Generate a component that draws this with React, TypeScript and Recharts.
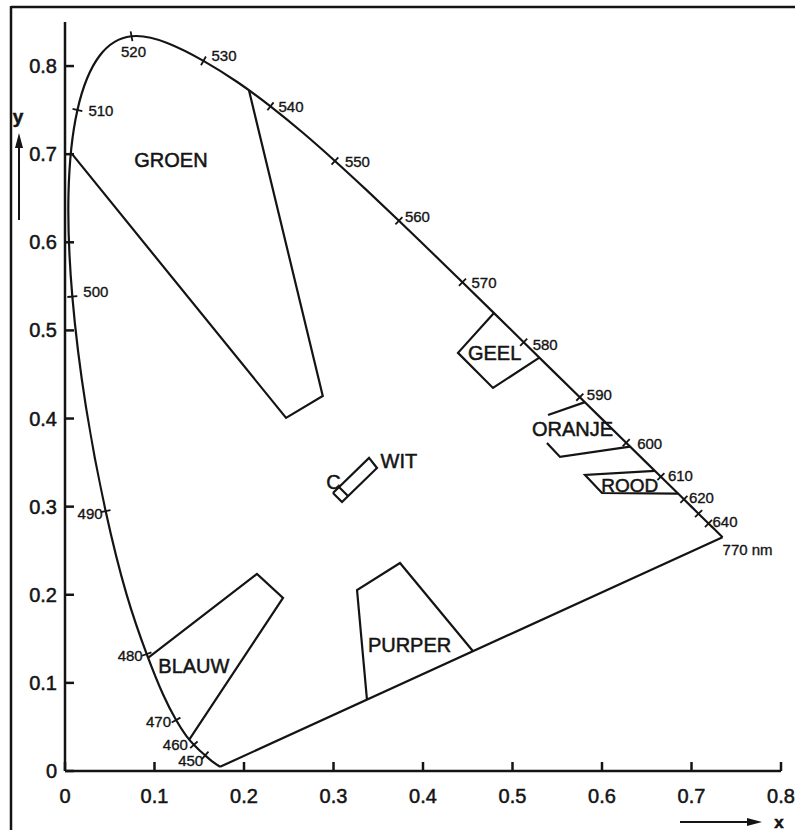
import React from "react";
import { Scatter, ScatterChart, XAxis, YAxis } from "recharts";

const FONT = '"Liberation Sans", Arial, Helvetica, sans-serif';
const INK = "#141414";

// CIE 1931 spectral locus, wavelength in nm
const locus = [
  { nm: 400, x: 0.1733, y: 0.0048 },
  { nm: 440, x: 0.1644, y: 0.0109 },
  { nm: 450, x: 0.1566, y: 0.0177 },
  { nm: 455, x: 0.151, y: 0.0227 },
  { nm: 460, x: 0.144, y: 0.0297 },
  { nm: 465, x: 0.1355, y: 0.0399 },
  { nm: 470, x: 0.1241, y: 0.0578 },
  { nm: 475, x: 0.1096, y: 0.0868 },
  { nm: 480, x: 0.0913, y: 0.1327 },
  { nm: 485, x: 0.0687, y: 0.2007 },
  { nm: 490, x: 0.0454, y: 0.295 },
  { nm: 495, x: 0.0235, y: 0.4127 },
  { nm: 500, x: 0.0082, y: 0.5384 },
  { nm: 505, x: 0.0039, y: 0.6548 },
  { nm: 510, x: 0.0139, y: 0.7502 },
  { nm: 515, x: 0.0389, y: 0.812 },
  { nm: 520, x: 0.0743, y: 0.8338 },
  { nm: 525, x: 0.1142, y: 0.8262 },
  { nm: 530, x: 0.1547, y: 0.8059 },
  { nm: 535, x: 0.1929, y: 0.7816 },
  { nm: 540, x: 0.2296, y: 0.7543 },
  { nm: 545, x: 0.2658, y: 0.7243 },
  { nm: 550, x: 0.3016, y: 0.6923 },
  { nm: 555, x: 0.3373, y: 0.6589 },
  { nm: 560, x: 0.3731, y: 0.6245 },
  { nm: 565, x: 0.4087, y: 0.5896 },
  { nm: 570, x: 0.4441, y: 0.5547 },
  { nm: 575, x: 0.4788, y: 0.5202 },
  { nm: 580, x: 0.5125, y: 0.4866 },
  { nm: 585, x: 0.5448, y: 0.4544 },
  { nm: 590, x: 0.5752, y: 0.4242 },
  { nm: 595, x: 0.6029, y: 0.3965 },
  { nm: 600, x: 0.627, y: 0.3725 },
  { nm: 605, x: 0.6482, y: 0.3514 },
  { nm: 610, x: 0.6658, y: 0.334 },
  { nm: 615, x: 0.6801, y: 0.3197 },
  { nm: 620, x: 0.6915, y: 0.3083 },
  { nm: 630, x: 0.7079, y: 0.292 },
  { nm: 640, x: 0.719, y: 0.2809 },
  { nm: 650, x: 0.726, y: 0.274 },
  { nm: 770, x: 0.7347, y: 0.2653 },
];

// wavelengths that get a mark on the locus
const markNm = [450, 460, 470, 480, 490, 500, 510, 520, 530, 540, 550, 560, 570, 580, 590, 600, 610, 620, 630, 640, 770];
const markLabels: Record<number, string> = {
  450: "450", 460: "460", 470: "470", 480: "480", 490: "490", 500: "500",
  510: "510", 520: "520", 530: "530", 540: "540", 550: "550", 560: "560",
  570: "570", 580: "580", 590: "590", 600: "600", 610: "610", 620: "620",
  630: "", 640: "640", 770: "770 nm",
};

// colour regions (outline points)
const groen = [
  { x: 0.008, y: 0.7 },
  { x: 0.247, y: 0.4007 },
  { x: 0.288, y: 0.4257 },
  { x: 0.2056, y: 0.7722 },
];
const geel = [
  { x: 0.4793, y: 0.5197 },
  { x: 0.4391, y: 0.4745 },
  { x: 0.4782, y: 0.4347 },
  { x: 0.53, y: 0.4692 },
];
const oranjeTop = [
  { x: 0.581, y: 0.4186 },
  { x: 0.5397, y: 0.4041 },
];
const oranjeBottom = [
  { x: 0.5385, y: 0.3723 },
  { x: 0.5531, y: 0.3564 },
  { x: 0.6313, y: 0.3682 },
];
const rood = [
  { x: 0.6592, y: 0.3405 },
  { x: 0.581, y: 0.336 },
  { x: 0.6, y: 0.3155 },
  { x: 0.685, y: 0.3148 },
];
const blauw = [
  { x: 0.0935, y: 0.129 },
  { x: 0.2145, y: 0.2236 },
  { x: 0.2436, y: 0.1964 },
  { x: 0.139, y: 0.036 },
];
const purper = [
  { x: 0.3374, y: 0.0809 },
  { x: 0.3263, y: 0.2054 },
  { x: 0.3743, y: 0.2361 },
  { x: 0.4559, y: 0.1359 },
];
const wit = [
  { x: 0.2994, y: 0.3155 },
  { x: 0.3095, y: 0.3053 },
  { x: 0.3486, y: 0.3439 },
  { x: 0.3397, y: 0.3553 },
  { x: 0.2994, y: 0.3155 },
];
const witCross = [
  { x: 0.3061, y: 0.3224 },
  { x: 0.3162, y: 0.3121 },
];
const purpleLine = [locus[0], locus[locus.length - 1]];

const regionLabels = [
  { text: "GROEN", x: 0.1184, y: 0.6935 },
  { text: "GEEL", x: 0.48, y: 0.4739 },
  { text: "ORANJE", x: 0.567, y: 0.3876 },
  { text: "ROOD", x: 0.631, y: 0.3241 },
  { text: "WIT", x: 0.373, y: 0.3513 },
  { text: "C", x: 0.3, y: 0.328 },
  { text: "BLAUW", x: 0.144, y: 0.1186 },
  { text: "PURPER", x: 0.385, y: 0.1425 },
];

const xTicks = [0, 0.1, 0.2, 0.3, 0.4, 0.5, 0.6, 0.7, 0.8];
const xTickLabels = ["0", "0.1", "0.2", "0.3", "0.4", "0.5", "0.6", "0.7", "0.8"];
const yTicks = [0, 0.1, 0.2, 0.3, 0.4, 0.5, 0.6, 0.7, 0.8];
const yTickLabels = ["0", "0.1", "0.2", "0.3", "0.4", "0.5", "0.6", "0.7", "0.8"];

// label placement for the wavelength marks: [dx, dy, anchor]
const markOffsets: Record<number, [number, number, string]> = {
  450: [-2, 5, "end"],
  460: [-6, 0, "end"],
  470: [-5, 1, "end"],
  480: [-4, 1, "end"],
  490: [-3, 2, "end"],
  500: [11, -5, "start"],
  510: [11, 1, "start"],
  520: [2, 15, "middle"],
  530: [8, -5, "start"],
  540: [8, 0, "start"],
  550: [10, 1, "start"],
  560: [6, -4, "start"],
  570: [9, 0, "start"],
  580: [9, 2, "start"],
  590: [7, -3, "start"],
  600: [11, 1, "start"],
  610: [7, -1, "start"],
  620: [5, -2, "start"],
  630: [0, 0, "start"],
  640: [4, -2, "start"],
  770: [0, 12, "start"],
};

const marks = locus.filter((p) => markNm.includes(p.nm));

const NoDot = () => null;

const textInk = { fill: INK, stroke: INK, strokeWidth: 0.5, fontFamily: FONT };

function WaveMark(props: any) {
  const { cx, cy, payload } = props;
  const nm = payload.nm;
  const i = locus.findIndex((p) => p.nm === nm);
  const a = locus[Math.max(0, i - 1)];
  const b = locus[Math.min(locus.length - 1, i + 1)];
  const tx = b.x - a.x;
  const ty = -(b.y - a.y);
  const len = Math.hypot(tx, ty) || 1;
  const nx = -ty / len;
  const ny = tx / len;
  const [dx, dy, anchor] = markOffsets[nm];
  return (
    <g>
      {nm !== 770 && (
        <line
          x1={cx - nx * 5}
          y1={cy - ny * 5}
          x2={cx + nx * 5}
          y2={cy + ny * 5}
          stroke={INK}
          strokeWidth={1.8}
        />
      )}
      <text
        x={cx + dx}
        y={cy + dy}
        textAnchor={anchor as any}
        dominantBaseline="central"
        fontSize={15}
        {...textInk}
        strokeWidth={0.35}
      >
        {markLabels[nm]}
      </text>
    </g>
  );
}

function RegionLabel(props: any) {
  const { cx, cy, payload } = props;
  return (
    <text
      x={cx}
      y={cy}
      textAnchor="middle"
      dominantBaseline="central"
      fontSize={payload.text === "ROOD" ? 19 : 20}
      {...textInk}
    >
      {payload.text}
    </text>
  );
}

function BottomTick({ x, y, payload }: any) {
  const label = xTickLabels[xTicks.indexOf(payload.value)];
  return (
    <g>
      <line x1={x} y1={y} x2={x} y2={y - 9} stroke={INK} strokeWidth={2.5} />
      <text x={x} y={y + 25} textAnchor="middle" dominantBaseline="central" fontSize={20} {...textInk}>
        {label}
      </text>
    </g>
  );
}

function LeftTick({ x, y, payload }: any) {
  const label = yTickLabels[yTicks.indexOf(payload.value)];
  return (
    <g>
      <line x1={x} y1={y} x2={x + 9} y2={y} stroke={INK} strokeWidth={2.5} />
      <text x={x - 8} y={y} textAnchor="end" dominantBaseline="central" fontSize={20} {...textInk}>
        {label}
      </text>
    </g>
  );
}

function TopTick({ x, y }: any) {
  return <line x1={x} y1={y} x2={x} y2={y + 8} stroke={INK} strokeWidth={2.5} />;
}

function RightTick({ x, y }: any) {
  return <line x1={x} y1={y} x2={x - 9} y2={y} stroke={INK} strokeWidth={2.5} />;
}

const axisLine = { stroke: INK, strokeWidth: 2.5 };

const outlines = [
  { key: "locus", data: locus, joint: "natural" },
  { key: "purple", data: purpleLine, joint: "linear" },
  { key: "groen", data: groen, joint: "linear" },
  { key: "geel", data: geel, joint: "linear" },
  { key: "oranjeTop", data: oranjeTop, joint: "linear" },
  { key: "oranjeBottom", data: oranjeBottom, joint: "linear" },
  { key: "rood", data: rood, joint: "linear" },
  { key: "blauw", data: blauw, joint: "linear" },
  { key: "purper", data: purper, joint: "linear" },
  { key: "wit", data: wit, joint: "linear" },
  { key: "witCross", data: witCross, joint: "linear" },
];

export default function App() {
  return (
    <div style={{ position: "absolute", left: 0, top: 0, width: 795, height: 830, background: "#fff" }}>
      <ScatterChart width={795} height={830} margin={{ top: 22, right: 14, bottom: 0, left: 0 }}>
        <XAxis
          xAxisId="b"
          type="number"
          dataKey="x"
          domain={[0, 0.8]}
          ticks={xTicks}
          interval={0}
          height={59}
          tickSize={0}
          tickMargin={0}
          tickLine={false}
          tick={<BottomTick />}
          axisLine={axisLine}
        />
        <XAxis
          xAxisId="t"
          orientation="top"
          type="number"
          dataKey="x"
          domain={[0, 0.8]}
          ticks={xTicks.slice(1, -1)}
          interval={0}
          height={0}
          tickSize={0}
          tickMargin={0}
          tickLine={false}
          tick={<TopTick />}
          axisLine={axisLine}
        />
        <YAxis
          yAxisId="l"
          type="number"
          dataKey="y"
          domain={[0, 0.85]}
          ticks={yTicks}
          interval={0}
          width={65}
          tickSize={0}
          tickMargin={0}
          tickLine={false}
          tick={<LeftTick />}
          axisLine={axisLine}
        />
        <YAxis
          yAxisId="r"
          orientation="right"
          type="number"
          dataKey="y"
          domain={[0, 0.85]}
          ticks={yTicks.slice(1)}
          interval={0}
          width={0}
          tickSize={0}
          tickMargin={0}
          tickLine={false}
          tick={<RightTick />}
          axisLine={axisLine}
        />
        {outlines.map((o) => (
          <Scatter
            key={o.key}
            xAxisId="b"
            yAxisId="l"
            data={o.data}
            line={{ stroke: INK, strokeWidth: 2.2 }}
            lineJointType={o.joint as any}
            shape={<NoDot />}
            isAnimationActive={false}
          />
        ))}
        <Scatter
          xAxisId="b"
          yAxisId="l"
          data={marks}
          shape={<WaveMark />}
          isAnimationActive={false}
        />
        <Scatter
          xAxisId="b"
          yAxisId="l"
          data={regionLabels}
          shape={<RegionLabel />}
          isAnimationActive={false}
        />
      </ScatterChart>
      <svg
        width={795}
        height={830}
        style={{ position: "absolute", left: 0, top: 0, pointerEvents: "none" }}
      >
        <line x1={11} y1={7} x2={795} y2={7} stroke={INK} strokeWidth={2.5} />
        <line x1={11} y1={6} x2={11} y2={830} stroke={INK} strokeWidth={2.5} />
        <text x={18} y={116} textAnchor="middle" dominantBaseline="central" fontSize={19} fontWeight="bold" {...textInk}>
          y
        </text>
        <line x1={19} y1={220} x2={19} y2={145} stroke={INK} strokeWidth={2} />
        <polygon points="19,133 15,148 23,148" fill={INK} />
        <line x1={680} y1={822} x2={750} y2={822} stroke={INK} strokeWidth={2} />
        <polygon points="762,822 747,818 747,826" fill={INK} />
        <text x={779} y={822} textAnchor="middle" dominantBaseline="central" fontSize={17} fontWeight="bold" {...textInk}>
          x
        </text>
      </svg>
    </div>
  );
}
